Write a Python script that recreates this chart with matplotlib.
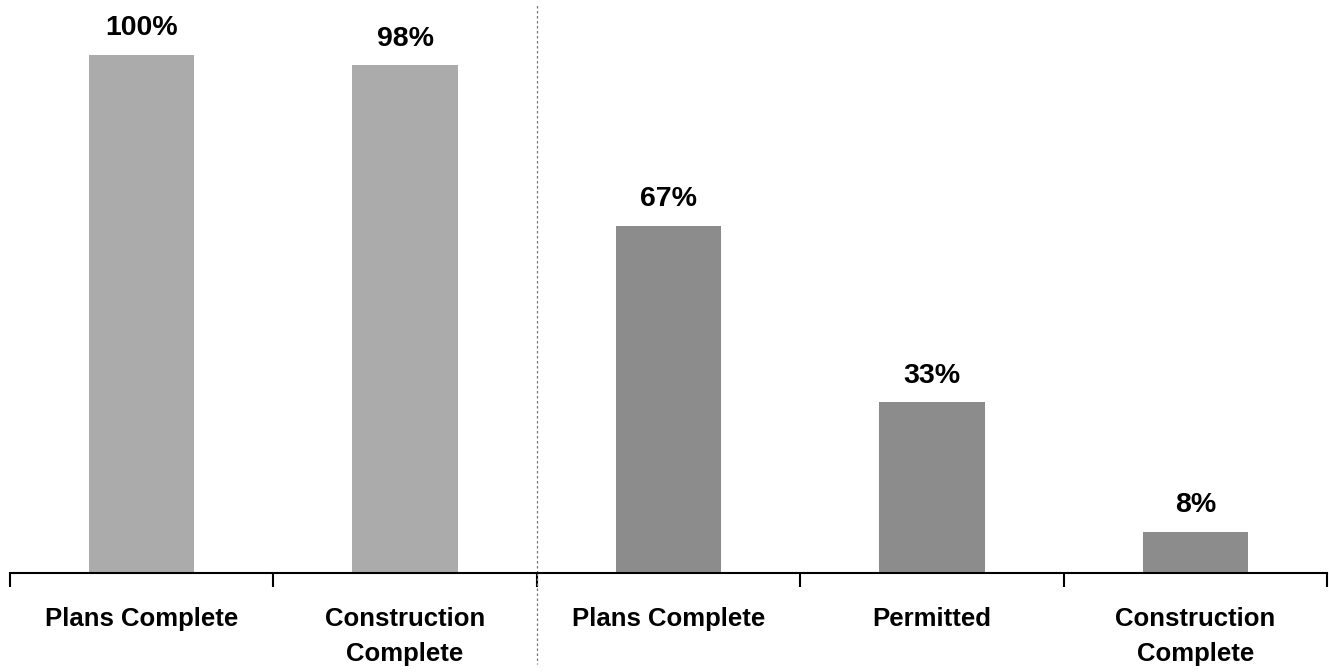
import matplotlib.pyplot as plt
import numpy as np

plt.rcParams['font.family'] = ['Liberation Sans', 'DejaVu Sans']

# two groups of bars, split by a dashed line
labels = ['Plans Complete', 'Construction\nComplete', 'Plans Complete', 'Permitted', 'Construction\nComplete']
values = [100, 98, 67, 33, 8]
colors = ['#ababab', '#ababab', '#8c8c8c', '#8c8c8c', '#8c8c8c']

fig = plt.figure(figsize=(13.29, 6.72), dpi=100)
ax = fig.add_axes([10/1329, 99/672, 1317/1329, 570/672])

x = np.arange(len(values))
ax.bar(x, values, width=0.4, color=colors)
for xi, v in zip(x, values):
    ax.text(xi, v + 2.6, f'{v}%', ha='center', va='bottom', fontsize=20.5, fontweight='bold')

ax.set_xlim(-0.5, len(values) - 0.5)
ax.set_ylim(0, 110)
ax.set_yticks([])
for s in ['top', 'right', 'left']:
    ax.spines[s].set_visible(False)
ax.spines['bottom'].set_linewidth(1.5)

ax.set_xticks(np.arange(-0.5, len(values)), minor=False)
ax.set_xticklabels([])
ax.tick_params(axis='x', direction='out', length=10, width=1.5)
for xi, l in zip(x, labels):
    ax.text(xi, -6.6, l, ha='center', va='top', fontsize=18.5, fontweight='bold', linespacing=1.55)

ax.axvline(1.5, ymin=0, ymax=1, color='#777777', linestyle=(0, (2, 2)), linewidth=0.9, clip_on=False)
ax.plot([1.5, 1.5], [0, -17.5], color='#777777', linestyle=(0, (2, 2)), linewidth=0.9, clip_on=False)

fig.savefig('out.png', dpi=100)
